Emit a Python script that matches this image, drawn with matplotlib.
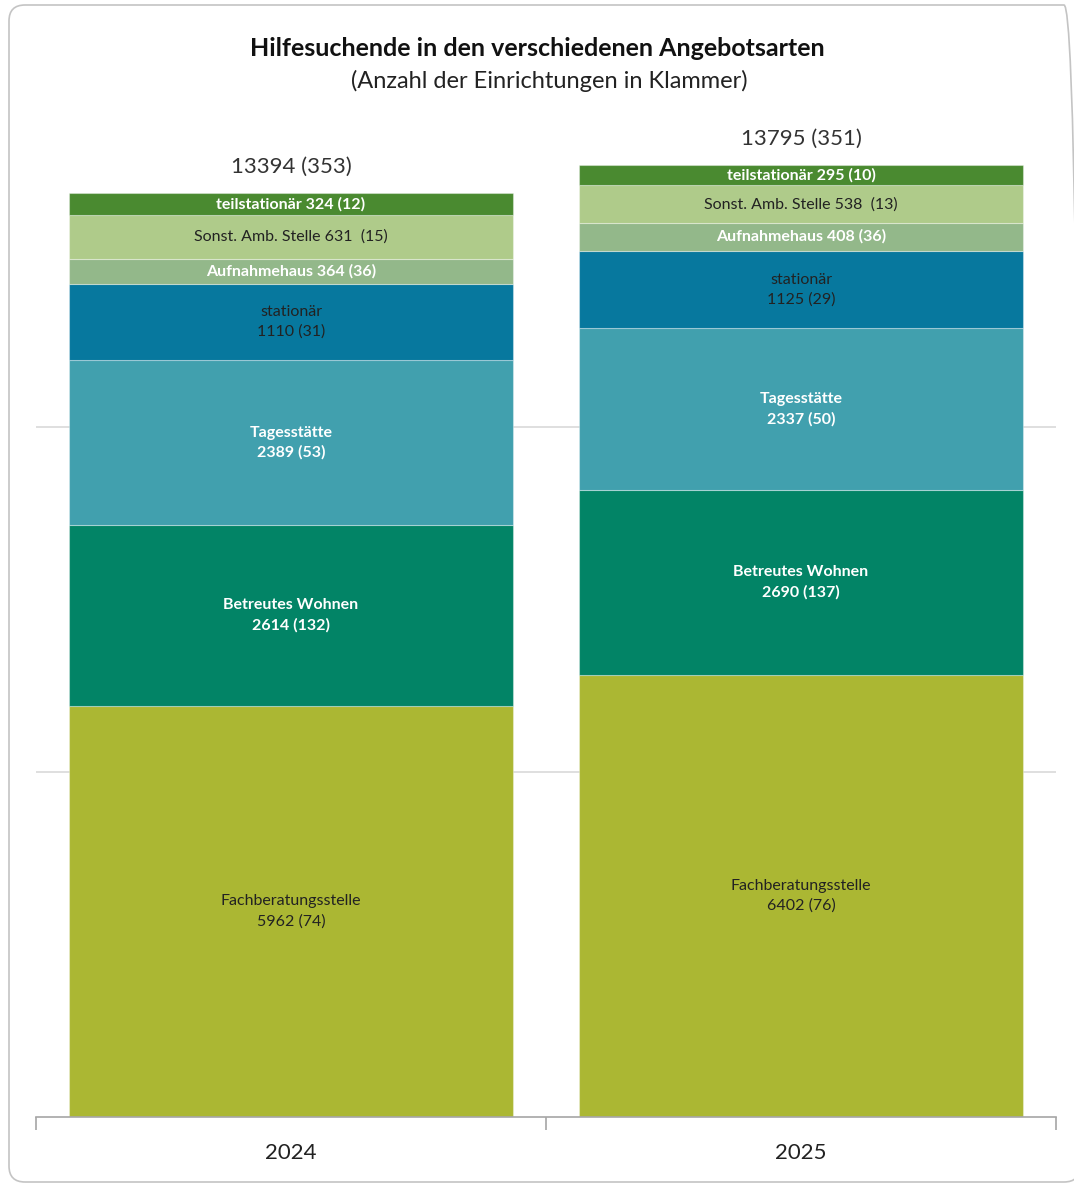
import matplotlib.pyplot as plt
from matplotlib.patches import FancyBboxPatch

plt.rcParams['font.family'] = ['Lato', 'DejaVu Sans']

# Daten
jahre = ['2024', '2025']
angebote = ['Fachberatungsstelle', 'Betreutes Wohnen', 'Tagesstätte', 'stationär',
            'Aufnahmehaus', 'Sonst. Amb. Stelle', 'teilstationär']
hilfesuchende_2024 = [5962, 2614, 2389, 1110, 364, 631, 324]
hilfesuchende_2025 = [6402, 2690, 2337, 1125, 408, 538, 295]
einrichtungen_2024 = [74, 132, 53, 31, 36, 15, 12]
einrichtungen_2025 = [76, 137, 50, 29, 36, 13, 10]
summen = [(13394, 353), (13795, 351)]

farben = ['#abb733', '#028466', '#41a0ae', '#07789e', '#93b88a', '#afcb8a', '#4a8a30']
textfarben = ['#222222', 'white', 'white', '#222222', 'white', '#222222', 'white']
fett = [False, True, True, False, True, False, True]
zweizeilig = [True, True, True, True, False, False, False]

W, H = 1074, 1185
fig = plt.figure(figsize=(W / 100, H / 100), dpi=100)

# abgerundeter Rahmen (Pixelkoordinaten), rechter Rand liegt ausserhalb des Bildes
rahmen = FancyBboxPatch((9, 3), 1071, 1177,
                        boxstyle='round,pad=0,rounding_size=16',
                        transform=None, facecolor='none',
                        edgecolor='#c4c4c4', linewidth=1.2, zorder=-1)
fig.patches.append(rahmen)

fig.text(0.5, 1 - 48 / H, 'Hilfesuchende in den verschiedenen Angebotsarten',
         ha='center', va='center', fontsize=18, fontweight='bold', color='#111111')
fig.text(549 / W, 1 - 81 / H, '(Anzahl der Einrichtungen in Klammer)',
         ha='center', va='center', fontsize=17, color='#222222')

ax = fig.add_axes([36 / W, 68 / H, 1020 / W, (1117 - 82) / H])
ax.set_facecolor('none')

breite = 0.87
for i, (werte, einr) in enumerate([(hilfesuchende_2024, einrichtungen_2024),
                                   (hilfesuchende_2025, einrichtungen_2025)]):
    unten = 0
    for k in range(len(angebote)):
        ax.bar(i, werte[k], breite, bottom=unten, color=farben[k],
               edgecolor=(1, 1, 1, 0.35), linewidth=0.8, zorder=2)
        if zweizeilig[k]:
            txt = f'{angebote[k]}\n{werte[k]} ({einr[k]})'
        elif angebote[k] == 'Sonst. Amb. Stelle':
            txt = f'{angebote[k]} {werte[k]}  ({einr[k]})'
        else:
            txt = f'{angebote[k]} {werte[k]} ({einr[k]})'
        ax.text(i, unten + werte[k] / 2, txt, ha='center', va='center',
                fontsize=11.5, color=textfarben[k],
                fontweight='bold' if fett[k] else 'normal',
                linespacing=1.5, zorder=3)
        unten += werte[k]
    ax.text(i, unten + 380, f'{summen[i][0]} ({summen[i][1]})', ha='center',
            va='center', fontsize=16, color='#333333')

ax.set_xlim(-0.5, 1.5)
ax.set_ylim(0, 15000)
ax.set_yticks([5000, 10000])
ax.set_yticklabels([])
ax.tick_params(axis='y', length=0)
ax.grid(axis='y', color='#d9d9d9', linewidth=1.2, zorder=0)
ax.set_axisbelow(True)

ax.set_xticks([0, 1])
ax.set_xticklabels(jahre, fontsize=16, color='#222222')
ax.tick_params(axis='x', which='major', length=0, pad=19)
ax.set_xticks([-0.5, 0.5, 1.5], minor=True)
ax.tick_params(axis='x', which='minor', length=9, color='#a6a6a6', width=1.2)

for s in ['left', 'right', 'top']:
    ax.spines[s].set_visible(False)
ax.spines['bottom'].set_color('#a6a6a6')
ax.spines['bottom'].set_linewidth(1.2)

fig.savefig('out.png', dpi=100)
